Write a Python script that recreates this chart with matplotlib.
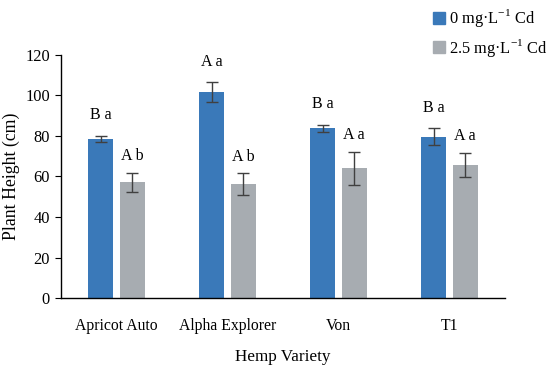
import matplotlib
matplotlib.use("Agg")
import matplotlib.pyplot as plt
import numpy as np
from matplotlib.lines import Line2D

plt.rcParams['font.family'] = ['Liberation Serif', 'DejaVu Serif']
plt.rcParams['mathtext.fontset'] = 'custom'
plt.rcParams['mathtext.rm'] = 'Liberation Serif'

varieties = ["Apricot Auto", "Alpha Explorer", "Von", "T1"]
ctrl_vals = [78.4, 101.6, 83.8, 79.7]
ctrl_err = [1.6, 4.8, 1.7, 4.0]
cd_vals = [57.1, 56.1, 64.0, 65.8]
cd_err = [4.7, 5.4, 8.3, 5.9]
ctrl_letters = ["B a", "A a", "B a", "B a"]
cd_letters = ["A b", "A b", "A a", "A a"]
series_names = ["0 mg·L$^{\\mathregular{-1}}$ Cd", "2.5 mg·L$^{\\mathregular{-1}}$ Cd"]

blue = "#3a79b9"
gray = "#a7acb1"

fig = plt.figure(figsize=(5.5, 3.68), dpi=100)
ax = fig.add_axes([0.111, 0.190, 0.807, 0.661])

x = np.arange(len(varieties))
w = 0.225
off = 0.142
ekw = dict(ecolor="#404040", elinewidth=1.0, capsize=4, capthick=1.0)
ax.bar(x - off, ctrl_vals, w, color=blue, yerr=ctrl_err, error_kw=ekw)
ax.bar(x + off, cd_vals, w, color=gray, yerr=cd_err, error_kw=ekw)

for i in range(len(varieties)):
    ax.annotate(ctrl_letters[i], (x[i] - off, ctrl_vals[i] + ctrl_err[i]),
                xytext=(0, 9), textcoords="offset points", ha="center", va="bottom", fontsize=11.5)
    ax.annotate(cd_letters[i], (x[i] + off, cd_vals[i] + cd_err[i]),
                xytext=(0, 6), textcoords="offset points", ha="center", va="bottom", fontsize=11.5)

ax.set_xlim(-0.5, len(varieties) - 0.5)
ax.set_ylim(0, 120)
ax.set_yticks(np.arange(0, 121, 20))
ax.set_xticks(x)
ax.set_xticklabels(varieties, fontsize=11.3)
ax.tick_params(axis='x', length=0, pad=14)
ax.tick_params(axis='y', direction='out', length=4, labelsize=11.8, pad=4)
for s in ['top', 'right']:
    ax.spines[s].set_visible(False)
for s in ['left', 'bottom']:
    ax.spines[s].set_linewidth(1.0)
    ax.spines[s].set_color('black')

ax.set_xlabel("Hemp Variety", fontsize=12.3, labelpad=11.5)
ax.set_ylabel("Plant Height (cm)", fontsize=12.8)
ax.yaxis.set_label_coords(-0.092, 0.5)

handles = [Line2D([], [], marker='s', linestyle='none', markersize=8, color=blue),
           Line2D([], [], marker='s', linestyle='none', markersize=8, color=gray)]
fig.legend(handles, series_names, loc='upper right', bbox_to_anchor=(1.022, 1.02),
           frameon=False, fontsize=11.8, handletextpad=0.1, labelspacing=0.45, handlelength=1.0)

fig.savefig("out.png", dpi=100)
